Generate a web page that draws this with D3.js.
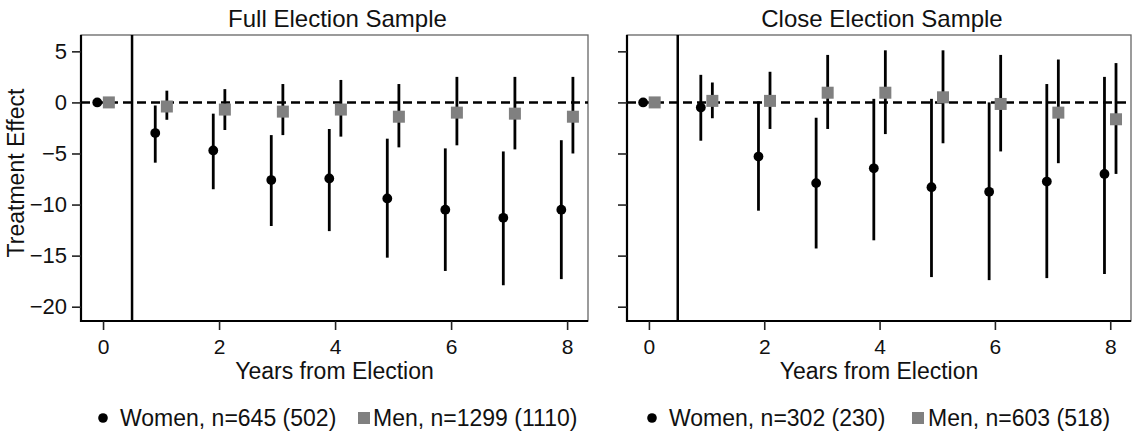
<!DOCTYPE html>
<html>
<head>
<meta charset="utf-8">
<script src="https://cdn.jsdelivr.net/npm/d3@7"></script>
<style>
  body { margin: 0; background: #fff; }
  svg { display: block; font-family: "Liberation Sans", Arial, sans-serif; }
</style>
</head>
<body>
<div id="chart"></div>
<script>
// years after election, shared by both panels
let years = [0, 1, 2, 3, 4, 5, 6, 7, 8];
let yTicks = [5, 0, -5, -10, -15, -20];
let xTicks = [0, 2, 4, 6, 8];

let panelTitles = ["Full Election Sample", "Close Election Sample"];
let womenLabels = ["Women, n=645 (502)", "Women, n=302 (230)"];
let menLabels = ["Men, n=1299 (1110)", "Men, n=603 (518)"];

// full election sample
let fullWomenEst = [0, -3.0, -4.7, -7.6, -7.45, -9.4, -10.5, -11.3, -10.5];
let fullWomenLo  = [0, -5.9, -8.5, -12.1, -12.6, -15.2, -16.5, -17.9, -17.3];
let fullWomenHi  = [0, -0.3, -1.1, -3.2, -2.6, -3.55, -4.5, -4.8, -3.7];
let fullMenEst = [0, -0.4, -0.7, -0.9, -0.7, -1.4, -1.0, -1.1, -1.4];
let fullMenLo  = [0, -1.7, -2.7, -3.2, -3.35, -4.4, -4.2, -4.6, -5.0];
let fullMenHi  = [0, 1.15, 1.3, 1.8, 2.2, 1.8, 2.5, 2.5, 2.5];

// close election sample
let closeWomenEst = [0, -0.5, -5.3, -7.9, -6.45, -8.3, -8.75, -7.75, -7.0];
let closeWomenLo  = [0, -3.75, -10.6, -14.3, -13.5, -17.1, -17.4, -17.2, -16.8];
let closeWomenHi  = [0, 2.7, 0.1, -1.5, 0.35, 0.35, 0.0, 1.8, 2.5];
let closeMenEst = [0, 0.15, 0.15, 0.95, 0.95, 0.5, -0.15, -1.0, -1.65];
let closeMenLo  = [0, -1.55, -2.6, -2.6, -3.1, -4.0, -4.8, -5.95, -7.0];
let closeMenHi  = [0, 1.95, 3.0, 4.65, 5.1, 5.1, 4.65, 4.2, 3.85];

function series(est, lo, hi) {
  return years.map(function(t, i) { return {t: t, est: est[i], lo: lo[i], hi: hi[i]} });
}

let panels = [
  {title: panelTitles[0], women: series(fullWomenEst, fullWomenLo, fullWomenHi),
   men: series(fullMenEst, fullMenLo, fullMenHi),
   left: 81, right: 588, labels: true,
   legend: {circle: 103, women: 120, square: 364, men: 373}},
  {title: panelTitles[1], women: series(closeWomenEst, closeWomenLo, closeWomenHi),
   men: series(closeMenEst, closeMenLo, closeMenHi),
   left: 627, right: 1131, labels: false,
   legend: {circle: 652, women: 669, square: 918, men: 928}}
];

let width = 1132, height = 432;
let plotTop = 35, plotBottom = 321;
let grey = "#808080";

let svg = d3.select("#chart").append("svg")
  .attr("width", width)
  .attr("height", height);

let yScale = d3.scaleLinear()
  .domain([-21.4, 6.6])
  .range([plotBottom, plotTop]);

panels.forEach(function(p, pi) {
  let xScale = d3.scaleLinear()
    .domain([-0.38, 8.36])
    .range([p.left, p.right]);

  let g = svg.append("g");

  // plot region outline
  g.append("rect")
    .attr("x", p.left).attr("y", plotTop)
    .attr("width", p.right - p.left).attr("height", plotBottom - plotTop)
    .attr("fill", "none")
    .attr("stroke", "#666")
    .attr("stroke-width", 1.3);

  // election line at 0.5
  g.append("line")
    .attr("x1", xScale(0.5)).attr("x2", xScale(0.5))
    .attr("y1", plotTop).attr("y2", plotBottom)
    .attr("stroke", "#000").attr("stroke-width", 2.5);

  // zero line
  g.append("line")
    .attr("x1", p.left).attr("x2", p.right)
    .attr("y1", yScale(0)).attr("y2", yScale(0))
    .attr("stroke", "#000").attr("stroke-width", 2.5)
    .attr("stroke-dasharray", "9,5");

  // confidence intervals
  g.selectAll(".ciw").data(p.women.filter(function(d) { return d.t > 0 }))
    .enter().append("line")
    .attr("x1", function(d) { return xScale(d.t - 0.1) })
    .attr("x2", function(d) { return xScale(d.t - 0.1) })
    .attr("y1", function(d) { return yScale(d.lo) })
    .attr("y2", function(d) { return yScale(d.hi) })
    .attr("stroke", "#000").attr("stroke-width", 2.8);

  g.selectAll(".cim").data(p.men.filter(function(d) { return d.t > 0 }))
    .enter().append("line")
    .attr("x1", function(d) { return xScale(d.t + 0.1) })
    .attr("x2", function(d) { return xScale(d.t + 0.1) })
    .attr("y1", function(d) { return yScale(d.lo) })
    .attr("y2", function(d) { return yScale(d.hi) })
    .attr("stroke", "#000").attr("stroke-width", 2.8);

  // point estimates
  g.selectAll(".pw").data(p.women)
    .enter().append("circle")
    .attr("cx", function(d) { return xScale(d.t - 0.1) })
    .attr("cy", function(d) { return yScale(d.est) })
    .attr("r", 4.9)
    .attr("fill", "#000");

  g.selectAll(".pm").data(p.men)
    .enter().append("rect")
    .attr("x", function(d) { return xScale(d.t + 0.1) - 6 })
    .attr("y", function(d) { return yScale(d.est) - 6 })
    .attr("width", 12).attr("height", 12)
    .attr("fill", grey);

  /* axes */
  let yAxis = d3.axisLeft(yScale)
    .tickValues(yTicks)
    .tickSize(9)
    .tickSizeOuter(0)
    .tickPadding(5);
  if (!p.labels) yAxis.tickFormat("");

  let ya = g.append("g")
    .attr("transform", "translate(" + p.left + ",0)")
    .call(yAxis);

  let xAxis = d3.axisBottom(xScale)
    .tickValues(xTicks)
    .tickSize(9)
    .tickSizeOuter(0)
    .tickPadding(9);

  let xa = g.append("g")
    .attr("transform", "translate(0," + plotBottom + ")")
    .call(xAxis);

  [ya, xa].forEach(function(a) {
    a.select(".domain").attr("stroke", "#000").attr("stroke-width", 2.2);
    a.selectAll(".tick line").attr("stroke", "#222").attr("stroke-width", 1.6);
    a.selectAll(".tick text").attr("fill", "#111")
      .attr("font-size", 21).attr("font-family", "Liberation Sans, Arial, sans-serif");
  });
  ya.selectAll(".tick text").attr("font-size", 22);
  ya.select(".domain").attr("d", "M0," + plotTop + "V" + (plotBottom + 1));
  xa.select(".domain").attr("d", "M" + (p.left - 1) + ",0H" + p.right);

  // titles
  let cx = (p.left + p.right) / 2;
  g.append("text")
    .attr("x", cx + 3).attr("y", 27)
    .attr("text-anchor", "middle")
    .attr("font-size", 24).attr("fill", "#111")
    .text(p.title);

  g.append("text")
    .attr("x", cx).attr("y", 379)
    .attr("text-anchor", "middle")
    .attr("font-size", 23).attr("fill", "#111")
    .text("Years from Election");

  // legend
  let ly = 418;
  g.append("circle")
    .attr("cx", p.legend.circle).attr("cy", ly)
    .attr("r", 4.8).attr("fill", "#000");
  g.append("text")
    .attr("x", p.legend.women).attr("y", 426)
    .attr("font-size", 23).attr("fill", "#111")
    .text(womenLabels[pi]);
  g.append("rect")
    .attr("x", p.legend.square - 6).attr("y", ly - 6)
    .attr("width", 12).attr("height", 12)
    .attr("fill", grey);
  g.append("text")
    .attr("x", p.legend.men).attr("y", 426)
    .attr("font-size", 23).attr("fill", "#111")
    .text(menLabels[pi]);
});

// shared y axis title
svg.append("text")
  .attr("transform", "translate(24," + ((plotTop + plotBottom) / 2 - 5) + ") rotate(-90)")
  .attr("text-anchor", "middle")
  .attr("font-size", 23).attr("fill", "#111")
  .text("Treatment Effect");
</script>
</body>
</html>
